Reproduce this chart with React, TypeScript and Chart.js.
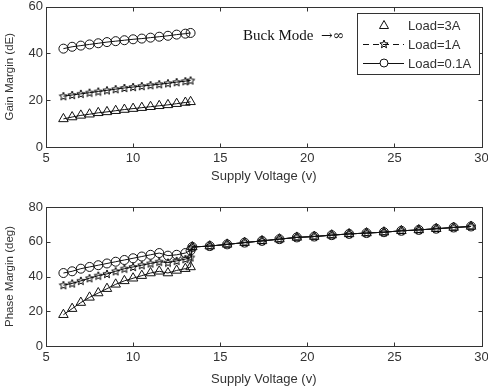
import { useEffect, useRef } from 'react';
import { Chart, registerables } from 'chart.js';
Chart.register(...registerables);

// ---- data ----
const VOLTAGE_LOW = [6, 6.5, 7, 7.5, 8, 8.5, 9, 9.5, 10, 10.5, 11, 11.5, 12, 12.5, 13, 13.3];
const VOLTAGE_HIGH = [13.4, 14.4, 15.4, 16.4, 17.4, 18.4, 19.4, 20.4, 21.4, 22.4, 23.4, 24.4, 25.4, 26.4, 27.4, 28.4, 29.4];

const GAIN_3A = [12, 12.8, 13.5, 14, 14.6, 15, 15.5, 16, 16.4, 16.8, 17.2, 17.6, 18, 18.5, 19, 19.3];
const GAIN_1A = [21.7, 22.2, 22.7, 23.2, 23.7, 24.2, 24.7, 25.2, 25.6, 26, 26.4, 26.8, 27.2, 27.7, 28.1, 28.4];
const GAIN_01A = [42, 42.8, 43.3, 43.8, 44.3, 44.8, 45.2, 45.6, 46, 46.3, 46.7, 47.1, 47.5, 48, 48.4, 48.7];

const PHASE_3A_LOW = [18, 21.5, 25, 28, 30.5, 33, 35.5, 37.5, 39, 40.5, 42, 43, 42, 43.5, 44.5, 45.5];
const PHASE_1A_LOW = [35, 36, 37.5, 39, 40.5, 41.5, 43, 44.5, 45.5, 46.5, 47.5, 48.5, 48, 49, 50, 51];
const PHASE_01A_LOW = [42, 43, 44.5, 45.5, 46.5, 47.5, 48.5, 49.5, 50.5, 51.5, 52.5, 53.5, 52, 52.5, 53.5, 55];
const PHASE_HIGH = [57, 57.5, 58.5, 59.5, 60.5, 61.5, 62.5, 63, 63.8, 64.5, 65, 65.5, 66.3, 66.8, 67.5, 68.2, 68.8];

const X_TICKS = [5, 10, 15, 20, 25, 30];
const GAIN_TICKS = [0, 20, 40, 60];
const PHASE_TICKS = [0, 20, 40, 60, 80];
const SERIES_LABELS = ['Load=3A', 'Load=1A', 'Load=0.1A'];

const SANS = '"Liberation Sans", Arial, sans-serif';
const TXT = '#333';

function makeStar(): HTMLCanvasElement {
  const c = document.createElement('canvas');
  c.width = 10; c.height = 10;
  const g = c.getContext('2d')!;
  g.strokeStyle = '#000';
  g.lineWidth = 1;
  g.beginPath();
  for (let i = 0; i < 10; i++) {
    const r = i % 2 === 0 ? 4.3 : 1.9;
    const a = -Math.PI / 2 + (i * Math.PI) / 5;
    const px = 5 + r * Math.cos(a);
    const py = 5.3 + r * Math.sin(a);
    if (i === 0) g.moveTo(px, py); else g.lineTo(px, py);
  }
  g.closePath();
  g.stroke();
  return c;
}

function pts(xs: number[], ys: number[]) {
  return xs.map((x, i) => ({ x, y: ys[i] }));
}

const framePlugin = {
  id: 'frame',
  afterDatasetsDraw(chart: any, _a: any, opts: any) {
    const { ctx, chartArea } = chart;
    const { left, right, top, bottom } = chartArea;
    const xs = chart.scales.x;
    const ys = chart.scales.y;
    ctx.save();
    ctx.strokeStyle = '#333';
    ctx.lineWidth = 1;
    const L = Math.round(left) + 0.5, R = Math.round(right) + 0.5;
    const T = Math.round(top) + 0.5, B = Math.round(bottom) + 0.5;
    ctx.strokeRect(L, T, R - L, B - T);
    ctx.beginPath();
    for (const v of X_TICKS) {
      const p = Math.round(xs.getPixelForValue(v)) + 0.5;
      ctx.moveTo(p, B); ctx.lineTo(p, B - 4);
      ctx.moveTo(p, T); ctx.lineTo(p, T + 4);
    }
    for (const v of opts.yTicks as number[]) {
      const p = Math.round(ys.getPixelForValue(v)) + 0.5;
      ctx.moveTo(L, p); ctx.lineTo(L + 4, p);
      ctx.moveTo(R, p); ctx.lineTo(R - 4, p);
    }
    ctx.stroke();
    ctx.restore();
  },
};

const legendPlugin = {
  id: 'customLegend',
  afterDraw(chart: any, _a: any, opts: any) {
    const { ctx } = chart;
    const star = opts.star as HTMLCanvasElement;
    ctx.save();
    ctx.fillStyle = '#111';
    ctx.textBaseline = 'middle';
    ctx.textAlign = 'left';
    ctx.font = '15px "Liberation Serif", "Times New Roman", serif';
    ctx.fillText('Buck Mode', 243, 36);
    ctx.font = '14px "DejaVu Serif", serif';
    ctx.fillText('\u2192\u221E', 321, 36);
    const bx = 357.5, by = 13.5, bw = 122, bh = 61;
    ctx.fillStyle = '#fff';
    ctx.fillRect(bx, by, bw, bh);
    ctx.strokeStyle = '#333';
    ctx.lineWidth = 1;
    ctx.strokeRect(bx, by, bw, bh);
    const rows = [25, 44, 63];
    const mx = 384;
    ctx.font = '13px ' + SANS;
    SERIES_LABELS.forEach((lab, i) => {
      const y = rows[i];
      ctx.strokeStyle = '#111';
      if (i === 1) {
        ctx.setLineDash([6, 4]);
        ctx.beginPath(); ctx.moveTo(363, y + 0.5); ctx.lineTo(404, y + 0.5); ctx.stroke();
        ctx.setLineDash([]);
        ctx.drawImage(star, mx - 5, y - 5);
      } else if (i === 2) {
        ctx.beginPath(); ctx.moveTo(363, y + 0.5); ctx.lineTo(404, y + 0.5); ctx.stroke();
        ctx.fillStyle = '#fff';
        ctx.beginPath(); ctx.arc(mx, y, 4, 0, Math.PI * 2); ctx.fill(); ctx.stroke();
      } else {
        ctx.beginPath();
        ctx.moveTo(mx, y - 4.5); ctx.lineTo(mx + 4.5, y + 3.5); ctx.lineTo(mx - 4.5, y + 3.5); ctx.closePath();
        ctx.stroke();
      }
      ctx.fillStyle = TXT;
      ctx.fillText(lab, 408, y + 1);
    });
    ctx.restore();
  },
};

function makeOptions(yMax: number, yTicks: number[], yTitle: string, padTop: number, titleBottom: number, star: HTMLCanvasElement, withLegend: boolean): any {
  return {
    responsive: false,
    animation: false,
    layout: { padding: { left: 0, right: 6, top: padTop, bottom: 0 } },
    plugins: {
      legend: { display: false },
      tooltip: { enabled: false },
      frame: { yTicks },
      customLegend: withLegend ? { star } : false,
    },
    scales: {
      x: {
        type: 'linear', min: 5, max: 30,
        afterBuildTicks: (s: any) => { s.ticks = X_TICKS.map(v => ({ value: v })); },
        afterFit: (s: any) => { s.height = 43; s.paddingRight = 0; s.paddingLeft = 0; },
        grid: { display: false, drawTicks: false },
        border: { display: false },
        ticks: { padding: 4, color: TXT, font: { family: SANS, size: 13 }, maxRotation: 0 },
        title: { display: true, text: 'Supply Voltage (v)', color: TXT, font: { family: SANS, size: 13 }, padding: { top: 0, bottom: titleBottom } },
      },
      y: {
        type: 'linear', min: 0, max: yMax,
        afterBuildTicks: (s: any) => { s.ticks = yTicks.map(v => ({ value: v })); },
        afterFit: (s: any) => { s.width = 46; s.paddingTop = 0; s.paddingBottom = 0; },
        grid: { display: false, drawTicks: false },
        border: { display: false },
        ticks: { padding: 3, color: TXT, font: { family: SANS, size: 13 } },
        title: { display: true, text: yTitle, color: TXT, font: { family: SANS, size: 11.5 }, padding: { top: 3, bottom: 0 } },
      },
    },
  };
}

function ds(label: string, data: any[], style: any, radius: number) {
  return {
    label, data,
    borderColor: '#111', borderWidth: 1,
    pointStyle: style, pointRadius: radius,
    pointBorderColor: '#111', pointBorderWidth: 1,
    pointBackgroundColor: 'rgba(255,255,255,0)',
    tension: 0, fill: false,
  };
}

export default function App() {
  const topRef = useRef<HTMLCanvasElement>(null);
  const botRef = useRef<HTMLCanvasElement>(null);
  useEffect(() => {
    const star = makeStar();
    const top = new Chart(topRef.current!, {
      type: 'line',
      data: {
        datasets: [
          ds(SERIES_LABELS[2], pts(VOLTAGE_LOW, GAIN_01A), 'circle', 4.5),
          ds(SERIES_LABELS[1], pts(VOLTAGE_LOW, GAIN_1A), star, 4.5),
          ds(SERIES_LABELS[0], pts(VOLTAGE_LOW, GAIN_3A), 'triangle', 5.5),
        ],
      },
      options: makeOptions(60, GAIN_TICKS, 'Gain Margin (dE)', 6, 6, star, true),
      plugins: [framePlugin, legendPlugin],
    } as any);
    const high = (low: number[]) => pts([...VOLTAGE_LOW, ...VOLTAGE_HIGH], [...low, ...PHASE_HIGH]);
    const bot = new Chart(botRef.current!, {
      type: 'line',
      data: {
        datasets: [
          ds(SERIES_LABELS[2], high(PHASE_01A_LOW), 'circle', 4.5),
          ds(SERIES_LABELS[1], high(PHASE_1A_LOW), star, 4.5),
          ds(SERIES_LABELS[0], high(PHASE_3A_LOW), 'triangle', 5.5),
        ],
      },
      options: makeOptions(80, PHASE_TICKS, 'Phase Margin (deg)', 17, 2, star, false),
      plugins: [framePlugin],
    } as any);
    return () => { top.destroy(); bot.destroy(); };
  }, []);
  return (
    <div style={{ position: 'absolute', left: 0, top: 0, width: 488, height: 389, background: '#fff' }}>
      <canvas ref={topRef} width={488} height={190} style={{ display: 'block' }} />
      <canvas ref={botRef} width={488} height={199} style={{ display: 'block' }} />
    </div>
  );
}
